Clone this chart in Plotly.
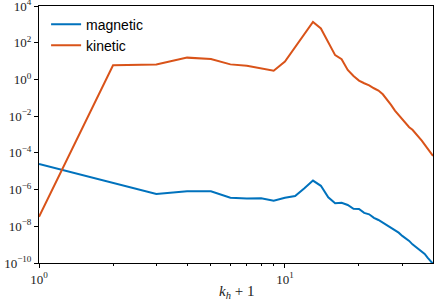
import plotly.graph_objects as go

k_plus_1 = list(range(1, 41))

magnetic = [2.5e-5, 2.2e-6, 5.7e-7, 8e-7, 8e-7, 3.6e-7, 3.3e-7, 3.4e-7, 2.5e-7, 3.6e-7,
            4.5e-7, 1.17e-6, 3.1e-6, 1.6e-6, 3.8e-7, 1.8e-7, 1.9e-7, 1.45e-7, 9e-8, 8.8e-8,
            5.4e-8, 4.5e-8, 2.9e-8, 2.2e-8, 1.58e-8, 1.18e-8, 8.5e-9, 5.8e-9, 4.5e-9, 3.0e-9,
            2.2e-9, 1.6e-9, 1.04e-9, 7.8e-10, 5.6e-10, 4.4e-10, 3.1e-10, 1.95e-10, 1.3e-10, 9e-11]

kinetic = [3.3e-8, 5.9, 6.6, 15.4, 13.0, 6.6, 5.6, 4.2, 3.0, 9.3,
           60, 325, 1350, 600, 114, 21, 12.6, 3.3, 1.54, 0.86,
           0.62, 0.48, 0.33, 0.25, 0.155, 0.083, 0.041, 0.020, 0.0116, 0.0061,
           0.0037, 0.0025, 0.0018, 0.00117, 7.6e-4, 4.6e-4, 2.8e-4, 1.7e-4, 1.0e-4, 6.8e-5]

x_tick_vals = [1, 10]
x_tick_text = ["10<sup>0</sup>", "10<sup>1</sup>"]
x_minor_ticks = [2, 3, 4, 5, 6, 7, 8, 9, 20, 30]
y_exponents = [-10, -8, -6, -4, -2, 0, 2, 4]
y_tick_vals = [10.0 ** e for e in y_exponents]
y_tick_text = ["10<sup>%s</sup>" % (("\u2212%d" % -e) if e < 0 else str(e)) for e in y_exponents]

fig = go.Figure()
fig.add_trace(go.Scatter(x=k_plus_1, y=magnetic, mode="lines", name="magnetic",
                         line=dict(color="#0072BD", width=2)))
fig.add_trace(go.Scatter(x=k_plus_1, y=kinetic, mode="lines", name="kinetic",
                         line=dict(color="#D95319", width=2)))

serif = "Liberation Serif"
fig.update_layout(
    width=436, height=300,
    margin=dict(l=39, r=3, t=6, b=37, autoexpand=False),
    plot_bgcolor="white", paper_bgcolor="white",
    showlegend=True,
    legend=dict(x=0.018, y=0.99, xanchor="left", yanchor="top",
                font=dict(family="Liberation Sans", size=14, color="black"),
                bgcolor="rgba(255,255,255,0)", borderwidth=0),
    xaxis=dict(type="log", range=[0, 1.602], tickvals=x_tick_vals, ticktext=x_tick_text,
               automargin=False, ticklabeloverflow="allow",
               showgrid=False, zeroline=False, showline=True, linecolor="black",
               linewidth=1, mirror=True, ticks="outside", ticklen=4, tickcolor="black",
               tickfont=dict(family=serif, size=13, color="#222"),
               minor=dict(tickvals=x_minor_ticks, ticks="outside", ticklen=2, tickcolor="black")),
    yaxis=dict(type="log", range=[-10, 4], tickvals=y_tick_vals, ticktext=y_tick_text,
               automargin=False, ticklabeloverflow="allow",
               showgrid=False, zeroline=False, showline=True, linecolor="black",
               linewidth=1, mirror=True, ticks="outside", ticklen=4, tickcolor="black",
               tickfont=dict(family=serif, size=13, color="#222")),
    annotations=[dict(text="<i>k</i><sub><i>h</i></sub> + 1", xref="paper", yref="paper",
                      x=0.5, y=-0.112, xanchor="center", yanchor="middle", showarrow=False,
                      font=dict(family=serif, size=15, color="#222"))],
)

fig.write_html("out.html", config={"displayModeBar": False},
               post_script="document.body.style.margin='0';")
